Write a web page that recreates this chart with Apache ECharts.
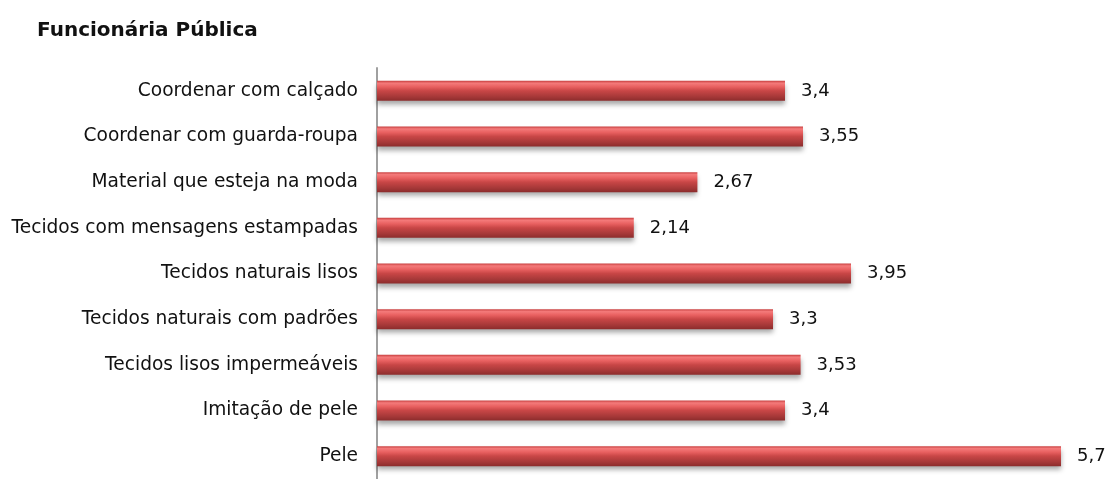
<!DOCTYPE html>
<html><head><meta charset="utf-8">
<script src="https://cdn.jsdelivr.net/npm/echarts@6/dist/echarts.min.js"></script>
<style>html,body{margin:0;padding:0;background:#fff}#c{width:1109px;height:479px}</style>
</head><body><div id="c"></div>
<script>
const titleText = "Funcionária Pública";
const categories = ["Coordenar com calçado","Coordenar com guarda-roupa","Material que esteja na moda","Tecidos com mensagens estampadas","Tecidos naturais lisos","Tecidos naturais com padrões","Tecidos lisos impermeáveis","Imitação de pele","Pele"];
const values = [3.4, 3.55, 2.67, 2.14, 3.95, 3.3, 3.53, 3.4, 5.7];

const chart = echarts.init(document.getElementById('c'), null, {renderer:'canvas'});
chart.setOption({
  animation:false,
  title:{text:titleText,left:32,top:16,textStyle:{fontFamily:'DejaVu Sans',fontWeight:'bold',fontSize:20,color:'#111'}},
  grid:{left:377,width:720,top:68,height:418},
  xAxis:{type:'value',min:0,max:6,show:false},
  yAxis:{type:'category',data:categories,inverse:true,
    axisLine:{show:true,lineStyle:{color:'#a0a0a0',width:2}},
    axisTick:{show:false},
    axisLabel:{fontFamily:'DejaVu Sans',fontSize:18.6,color:'#111',margin:19}},
  series:[{type:'bar',data:values,barWidth:20,
    itemStyle:{color:new echarts.graphic.LinearGradient(0,0,0,1,[
      {offset:0,color:'#c84040'},{offset:0.12,color:'#f47a7a'},{offset:0.3,color:'#e86060'},
      {offset:0.5,color:'#c84646'},{offset:0.8,color:'#a53838'},{offset:1,color:'#8c2c2c'}]),
      shadowColor:'rgba(0,0,0,0.35)',shadowBlur:5,shadowOffsetY:4},
    label:{show:true,position:'right',distance:16,fontFamily:'DejaVu Sans',fontSize:18,color:'#111',
      formatter:p=>String(p.value).replace('.',',')}
  }]
});
</script></body></html>
